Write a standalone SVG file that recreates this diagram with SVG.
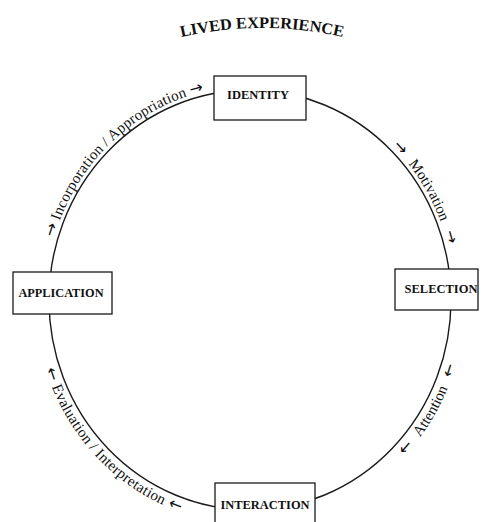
<svg xmlns="http://www.w3.org/2000/svg" width="483" height="522" viewBox="0 0 483 522">
<style>
.box{fill:#fff;stroke:#1a1a1a;stroke-width:1.3}
.lbl{font-family:"Liberation Serif","Times New Roman",serif;font-weight:bold;font-size:12px;fill:#111;text-anchor:middle}
.edge{font-family:"Liberation Serif","Times New Roman",serif;font-size:15px;fill:#111;text-anchor:middle}
.ar{font-family:"DejaVu Sans",sans-serif;font-size:16px;fill:#111}
.cyc{fill:none;stroke:#1a1a1a;stroke-width:1.4}
</style>
<defs>
<path id="pTitle" d="M172,39.4 A360,360 0 0 1 352,39.4"/>
<path id="pInc" d="M53.96,237.43 A205,214 0 0 1 203.89,91.48"/>
<path id="pMot" d="M392.41,146.06 A205,214 0 0 1 448.01,244.61"/>
<path id="pAtt" d="M404.66,455.6 A215,224 0 0 0 455.6,365.49"/>
<path id="pEva" d="M45.52,369.22 A215,224 0 0 0 180,511.8"/>
</defs>
<rect width="483" height="522" fill="#fff"/>
<text style="font-family:'Liberation Serif','Times New Roman',serif;font-weight:bold;font-size:16px;fill:#111" text-anchor="middle"><textPath href="#pTitle" startOffset="50%" textLength="163" lengthAdjust="spacingAndGlyphs">LIVED EXPERIENCE</textPath></text>
<g id="connectors">
<ellipse class="cyc" cx="250" cy="300" rx="201" ry="210"/>
<text class="ar"><textPath href="#pInc" startOffset="0">→</textPath></text>
<text class="edge"><textPath href="#pInc" startOffset="50%" textLength="184" lengthAdjust="spacing">Incorporation / Appropriation</textPath></text>
<text class="ar" text-anchor="end"><textPath href="#pInc" startOffset="100%">→</textPath></text>
<text class="ar"><textPath href="#pMot" startOffset="0">→</textPath></text>
<text class="edge"><textPath href="#pMot" startOffset="50%">Motivation</textPath></text>
<text class="ar" text-anchor="end"><textPath href="#pMot" startOffset="100%">→</textPath></text>
<text class="ar"><textPath href="#pAtt" startOffset="0">←</textPath></text>
<text class="edge"><textPath href="#pAtt" startOffset="50%">Attention</textPath></text>
<text class="ar" text-anchor="end"><textPath href="#pAtt" startOffset="100%">←</textPath></text>
<text class="ar"><textPath href="#pEva" startOffset="0">←</textPath></text>
<text class="edge"><textPath href="#pEva" startOffset="50%" textLength="166" lengthAdjust="spacing">Evaluation / Interpretation</textPath></text>
<text class="ar" text-anchor="end"><textPath href="#pEva" startOffset="100%">←</textPath></text>
</g>
<g id="identity">
<rect class="box" x="214" y="76" width="92" height="44"/>
<text class="lbl" x="258" y="99" textLength="62" lengthAdjust="spacingAndGlyphs">IDENTITY</text>
</g>
<g id="selection">
<rect class="box" x="395" y="269" width="83" height="41"/>
<text class="lbl" x="441" y="293" textLength="73" lengthAdjust="spacingAndGlyphs">SELECTION</text>
</g>
<g id="interaction">
<rect class="box" x="215" y="483" width="100" height="50"/>
<text class="lbl" x="265" y="509" textLength="89" lengthAdjust="spacingAndGlyphs">INTERACTION</text>
</g>
<g id="application">
<rect class="box" x="13" y="272" width="99" height="42"/>
<text class="lbl" x="61" y="297" textLength="85" lengthAdjust="spacingAndGlyphs">APPLICATION</text>
</g>
</svg>
